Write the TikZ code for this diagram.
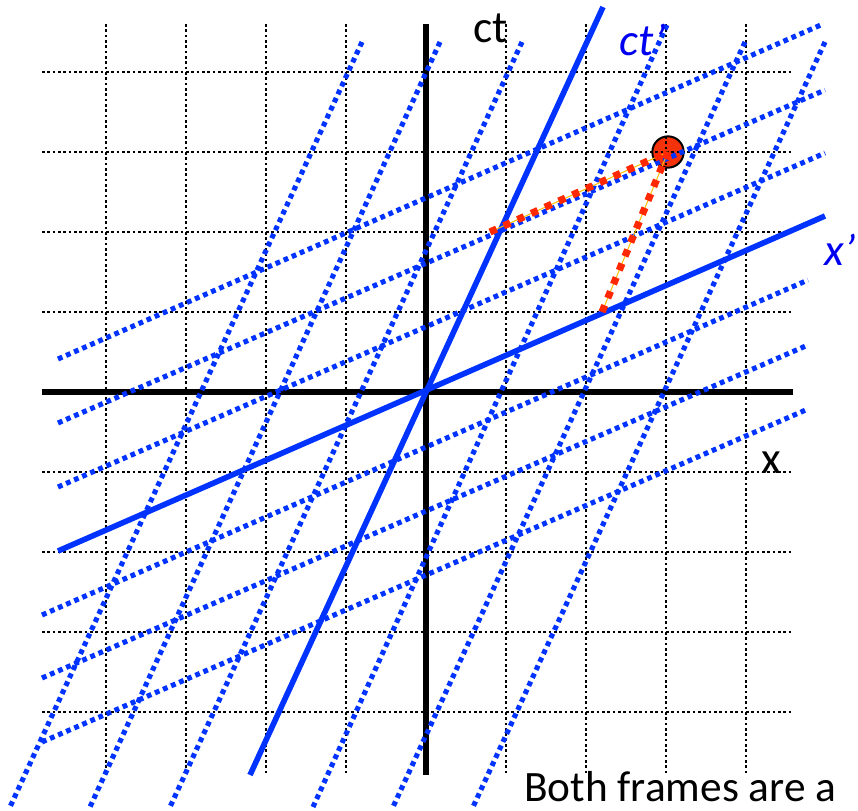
\documentclass[tikz,border=0pt]{standalone}
\usepackage{fontspec}
\setmainfont{Carlito}
\tikzset{
grid dots/.style={color=black, line width=2pt, dash pattern=on 2pt off 2pt},
frame axis/.style={color=black, line width=4.2pt},
primed axis/.style={color={rgb, 255:red, 0; green, 51; blue, 255}, line width=4.2pt},
primed dots/.style={color={rgb, 255:red, 0; green, 51; blue, 255}, line width=3.8pt, dash pattern=on 3.6pt off 3pt},
event dash/.style={color={rgb, 255:red, 255; green, 40; blue, 0}, line width=5.4pt, dash pattern=on 5.4pt off 5.9pt},
event guide/.style={color={rgb, 255:red, 255; green, 190; blue, 0}, line width=0.75pt},
event dot/.style={circle, draw=black, line width=1.5pt, fill={rgb, 255:red, 245; green, 50; blue, 10}, minimum size=23.5pt, inner sep=0pt},
label text/.style={anchor=base west, inner sep=0pt, text depth=0pt, font=\fontsize{34}{40}\selectfont}
}

\begin{document}
\begin{tikzpicture}[x=0.75pt,y=0.75pt,yscale=-1,xscale=1]
\useasboundingbox (0,0) rectangle (858,811);
\clip (0,0) rectangle (858,811);

%Shape: Circle [event]
\node [event dot] (event) at (668,152) {};

%Grid Lines [vertical]
\draw [grid dots] (106,24) -- (106,773) ;
\draw [grid dots] (186,24) -- (186,773) ;
\draw [grid dots] (266,24) -- (266,773) ;
\draw [grid dots] (346,24) -- (346,773) ;
\draw [grid dots] (506,24) -- (506,773) ;
\draw [grid dots] (586,24) -- (586,773) ;
\draw [grid dots] (666,24) -- (666,773) ;
\draw [grid dots] (746,24) -- (746,773) ;
%Grid Lines [horizontal]
\draw [grid dots] (42,72) -- (792,72) ;
\draw [grid dots] (42,152) -- (792,152) ;
\draw [grid dots] (42,232) -- (792,232) ;
\draw [grid dots] (42,312) -- (792,312) ;
\draw [grid dots] (42,472) -- (792,472) ;
\draw [grid dots] (42,552) -- (792,552) ;
\draw [grid dots] (42,632) -- (792,632) ;
\draw [grid dots] (42,712) -- (792,712) ;

%Straight Lines [x and ct axes]
\draw [frame axis] (42,392) -- (793,392) ;
\draw [frame axis] (426,24) -- (426,775) ;

%Straight Lines [x' and ct' axes]
\draw [primed axis] (250,775) -- (603,7) ;
\draw [primed axis] (58,551) -- (825,216) ;

%Straight Lines [lines of constant x']
\draw [primed dots] (362,42) -- (10,807) ;
\draw [primed dots] (440,42) -- (90,807) ;
\draw [primed dots] (522,42) -- (170,807) ;
\draw [primed dots] (667,25) -- (313,807) ;
\draw [primed dots] (745,42) -- (393,807) ;
\draw [primed dots] (825,42) -- (473,807) ;
%Straight Lines [lines of constant ct']
\draw [primed dots] (58,359) -- (823,24) ;
\draw [primed dots] (58,423) -- (825,90) ;
\draw [primed dots] (58,487) -- (825,153) ;
\draw [primed dots] (42,615) -- (808,280) ;
\draw [primed dots] (42,678) -- (808,345) ;
\draw [primed dots] (42,742) -- (808,409) ;

%Straight Lines [projections of the event]
\coordinate (onct) at (490,232);
\coordinate (onx) at (602,312);
\draw [event guide] (onct) -- (event.center) ;
\draw [event guide] (onx) -- (event.center) ;
\draw [event dash] (onct) -- (event.center) ;
\draw [event dash] (onx) -- (event.center) ;

% Text Node
\node [label text] (ctlabel) at (473,42) {ct};
% Text Node
\node [label text, color={rgb, 255:red, 0; green, 0; blue, 240}, font=\fontsize{34}{40}\selectfont\itshape] (ctprimelabel) at (619,55) {ct’};
% Text Node
\node [label text, color={rgb, 255:red, 0; green, 0; blue, 240}, font=\fontsize{34}{40}\selectfont\itshape] (xprimelabel) at (824,265) {x’};
% Text Node
\node [label text] (xlabel) at (761,473) {x};
% Text Node
\node [label text, font=\fontsize{32.5}{38}\selectfont] (caption) at (524,801) {Both frames are a};

\end{tikzpicture}
\end{document}
